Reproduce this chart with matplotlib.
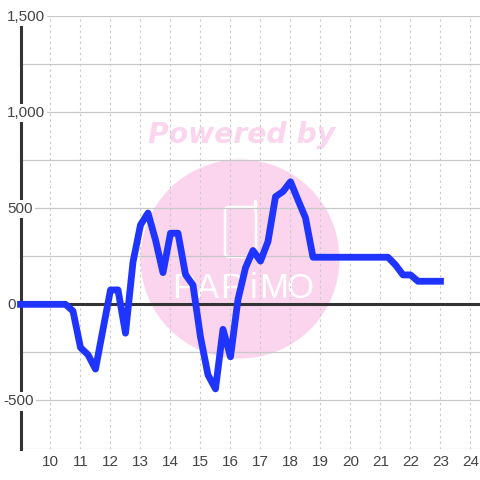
import matplotlib
matplotlib.use('Agg')
import matplotlib.pyplot as plt
from matplotlib.patches import Circle, FancyBboxPatch

# hours, one point every quarter hour
hours = [9, 9.25, 9.5, 9.75, 10, 10.25, 10.5, 10.75, 11, 11.25, 11.5, 11.75,
         12, 12.25, 12.5, 12.75, 13, 13.25, 13.5, 13.75, 14, 14.25, 14.5, 14.75,
         15, 15.25, 15.5, 15.75, 16, 16.25, 16.5, 16.75, 17, 17.25, 17.5, 17.75,
         18, 18.25, 18.5, 18.75, 19, 19.25, 19.5, 19.75, 20, 20.25, 20.5, 20.75,
         21, 21.25, 21.5, 21.75, 22, 22.25, 22.5, 22.75, 23]
values = [0, 0, 0, 0, 0, 0, 0, -35, -225, -262, -337, -130,
          75, 75, -150, 220, 413, 475, 335, 165, 370, 370, 155, 100,
          -170, -367, -440, -130, -273, 25, 190, 280, 225, 327, 560, 587,
          638, 543, 450, 245, 245, 245, 245, 245, 245, 245, 245, 245,
          245, 245, 205, 153, 153, 120, 120, 120, 120]

x_ticks = [10, 11, 12, 13, 14, 15, 16, 17, 18, 19, 20, 21, 22, 23, 24]
y_labels = [1500, 1000, 500, 0, -500]
y_grid = [1250, 750, 250, -250, -750]

plt.rcParams['font.family'] = ['Liberation Sans', 'DejaVu Sans']

fig = plt.figure(figsize=(4.8, 4.8), dpi=100)
bg = fig.add_axes([0, 0, 1, 1])
bg.set_xlim(0, 480)
bg.set_ylim(480, 0)
bg.axis('off')

# watermark sits under the plot
pink = '#fbd5ee'
bg.add_patch(Circle((240, 259), 99.5, color=pink, lw=0))
bg.text(241.5, 135, 'Powered by', color=pink, fontsize=20.3, family='DejaVu Sans',
        weight='bold', style='italic', ha='center', va='center')
bg.add_patch(FancyBboxPatch((225, 207), 31, 50, boxstyle='round,pad=0,rounding_size=4',
                            fc='none', ec='white', lw=1.8))
bg.plot([255, 255], [201, 210], color='white', lw=2.4, solid_capstyle='round')
for ch, cx in zip('PAPiMO', [184, 208, 232, 254, 274, 300]):
    bg.text(cx, 289, ch, color='white', fontsize=25, family='Liberation Sans',
            ha='center', va='center')

ax = fig.add_axes([20.5 / 480, (480 - 448.5) / 480, 459.5 / 480, 432.5 / 480])
ax.patch.set_alpha(0)
ax.set_xlim(9, 24.317)
ax.set_ylim(-750, 1500)

for s in ['top', 'right', 'bottom']:
    ax.spines[s].set_visible(False)
ax.spines['left'].set_linewidth(2.2)
ax.spines['left'].set_color('#333333')
ax.spines['left'].set_zorder(2)

ax.set_xticks(x_ticks)
ax.set_yticks(y_labels)
ax.set_yticks(y_grid, minor=True)
ax.grid(axis='x', color='#c8c8c8', linestyle=(0, (2, 3)), linewidth=0.8)
ax.grid(axis='y', which='both', color='#c8c8c8', linestyle='-', linewidth=0.9)
ax.set_axisbelow(True)
ax.tick_params(axis='both', which='both', length=0)
ax.tick_params(axis='x', labelsize=11, labelcolor='#444444', pad=5)
ax.set_yticklabels([])

ax.axhline(0, color='#333333', linewidth=2.2, zorder=2)

# y labels have a white box that breaks the axis line
for v in y_labels:
    label = f'{v:,}'
    ax.annotate(label, xy=(0, v), xycoords=('axes fraction', 'data'),
                xytext=(-13.5 if v >= 0 else -17.5, -1), textcoords='offset pixels',
                fontsize=11, color='#444444', ha='left', va='center', zorder=2.5,
                annotation_clip=False,
                bbox=dict(fc='white', ec='none', pad=1.5))

ax.plot(hours, values, color='#1f35ff', linewidth=4.9, solid_capstyle='projecting',
        solid_joinstyle='round', zorder=3, clip_on=False)

fig.savefig('out.png', dpi=100)
